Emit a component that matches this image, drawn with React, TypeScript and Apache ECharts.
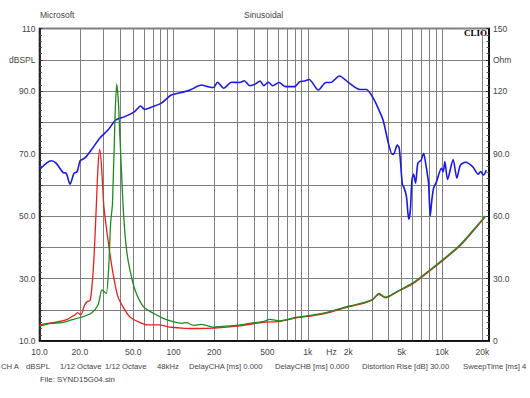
import React, { useEffect, useRef } from "react";
import * as echarts from "echarts";

// Blue: SPL response (left axis, dBSPL)
const blueFreq = [10, 12.2, 13.3, 15.0, 15.8, 16.9, 18.1, 19.1, 20.1, 21.7, 24.3, 28.1, 32.4, 36.9, 43.2, 51.2, 56.7, 60.8, 70.1, 80.9, 96, 121, 135, 161, 180, 198, 212, 236, 270, 312, 336, 370, 405, 441, 470, 508, 547, 611, 683, 796, 870, 947, 1022, 1197, 1364, 1477, 1718, 2038, 2434, 2737, 3073, 3340, 3634, 3990, 4244, 4350, 4640, 4800, 5067, 5180, 5433, 5647, 5810, 5968, 6142, 6349, 6605, 6992, 7300, 7550, 7940, 8167, 8400, 8650, 9105, 9898, 10200, 10500, 11000, 12100, 12900, 13700, 15000, 16900, 18600, 19400, 20400, 21400];
const blueDb = [64.9, 67.7, 66.9, 63.9, 63.7, 60.2, 63.7, 64.2, 67.7, 68.5, 71.1, 74.9, 77.5, 80.7, 81.8, 83.4, 85.2, 84.1, 85.0, 86.1, 88.7, 89.8, 90.5, 91.9, 91.4, 91.1, 92.8, 90.9, 92.8, 92.7, 93.3, 91.7, 92.2, 93.2, 91.7, 92.8, 91.7, 92.7, 91.4, 91.4, 93.0, 93.2, 93.7, 90.3, 92.7, 92.7, 94.8, 92.5, 90.5, 90.5, 87.7, 84.5, 80.7, 73.2, 69.8, 69.8, 72.7, 71.7, 59.9, 59.4, 56.2, 49.0, 51.9, 61.5, 63.4, 60.5, 66.9, 67.9, 70.1, 66.9, 60.5, 50.0, 55.1, 58.9, 61.0, 65.3, 64.2, 67.4, 61.7, 68.1, 62.1, 66.3, 67.2, 65.8, 63.4, 64.2, 63.1, 64.7];

// Red: impedance (right axis, Ohm)
const redFreq = [10, 11.5, 13.3, 15.7, 18.3, 19.2, 20.3, 21.7, 22.7, 23.8, 24.6, 25.5, 26.5, 27.3, 28.1, 28.9, 30.2, 32.4, 35.3, 38.4, 41.8, 46.9, 54.1, 64.3, 77, 96, 121, 150, 200, 260, 350, 465, 620, 820, 1100, 1460, 2040, 2600, 3030, 3390, 3790, 4590, 6100, 8120, 10200, 13600, 17100, 21000];
const redOhm = [7.7, 8.5, 9.0, 10.1, 12.5, 13.6, 12.5, 17.3, 18.9, 19.4, 26.1, 40.5, 64.5, 83.7, 92.0, 85.3, 64.5, 48.5, 32.5, 21.3, 16.5, 11.7, 9.3, 7.7, 7.7, 6.6, 6.1, 6.0, 6.2, 6.8, 7.8, 9.0, 9.4, 11.1, 12.2, 13.8, 16.5, 18.1, 19.7, 22.4, 20.7, 23.4, 27.6, 33.7, 38.8, 45.6, 52.8, 59.6];

// Green: impedance (right axis, Ohm)
const greenFreq = [10, 12.2, 14.6, 17.3, 20.5, 24.3, 27.3, 29.2, 30.2, 31.5, 32.8, 33.9, 35.0, 36.5, 37.6, 38.7, 39.4, 40.9, 42.6, 44.7, 47.2, 51.5, 59.4, 70.5, 83.6, 99, 115, 125, 140, 160, 180, 200, 230, 262, 300, 348, 400, 465, 520, 620, 824, 1098, 1460, 2041, 2600, 3033, 3392, 3788, 4594, 6102, 8123, 10200, 13600, 17100, 21000];
const greenOhm = [7.2, 8.5, 8.8, 10.1, 11.4, 13.3, 17.3, 24.5, 23.7, 22.9, 35.7, 56.5, 66, 106, 123.4, 115, 104, 80, 58, 43, 34.1, 24.5, 16.5, 13.3, 10.9, 9.3, 8.5, 8.8, 7.5, 8.0, 7.3, 6.6, 7.0, 7.2, 7.6, 8.2, 8.8, 9.3, 10.4, 9.7, 11.4, 12.5, 14.1, 16.8, 18.4, 20.0, 22.9, 21.0, 23.7, 28.0, 34.1, 39.2, 46.1, 53.3, 60.0];

// Axis ticks / labels
const gridFreqs = [10, 20, 30, 40, 50, 60, 70, 80, 90, 100, 200, 300, 400, 500, 600, 700, 800, 900, 1000, 2000, 3000, 4000, 5000, 6000, 7000, 8000, 9000, 10000, 20000];
const xLabelFreqs = [10, 20, 50, 100, 200, 500, 1000, 1500, 2000, 5000, 10000, 20000];
const xLabelTexts = ["10.0", "20.0", "50.0", "100", "200", "500", "1k", "Hz", "2k", "5k", "10k", "20k"];
const xMinFreq = 10;
const xMaxFreq = 22400;
const leftTickValues = [10, 30, 50, 70, 90, 100, 110];
const leftTickTexts = ["10.0", "30.0", "50.0", "70.0", "90.0", "dBSPL", "110"];
const rightTickValues = [0, 30, 60, 90, 120, 135, 150];
const rightTickTexts = ["0", "30.0", "60.0", "90.0", "120", "Ohm", "150"];

const footerRow = [
  { x: 1, text: "CH A" },
  { x: 26, text: "dBSPL" },
  { x: 60, text: "1/12 Octave" },
  { x: 105, text: "1/12 Octave" },
  { x: 157, text: "48kHz" },
  { x: 189, text: "DelayCHA [ms] 0.000" },
  { x: 275, text: "DelayCHB [ms] 0.000" },
  { x: 362, text: "Distortion Rise [dB] 30.00" },
  { x: 463, text: "SweepTime [ms] 4" },
];

const FONT = "'Liberation Sans', Arial, sans-serif";

const lg = (f: number) => Math.log10(f);
const pairs = (fs: number[], vs: number[]) => fs.map((f, i) => [lg(f), vs[i]]);

export default function App() {
  const ref = useRef<HTMLDivElement>(null);
  useEffect(() => {
    if (!ref.current) return;
    const chart = echarts.init(ref.current, null, { renderer: "svg" });
    const labelText = (vals: number[], texts: string[]) => (v: number) => {
      const i = vals.findIndex((t) => Math.abs(t - v) < 1e-6);
      return i >= 0 ? texts[i] : "";
    };
    const xLabLogs = xLabelFreqs.map(lg);
    const gridLine = { color: "#808080", width: 1 };
    const option: any = {
      animation: false,
      backgroundColor: "#ffffff",
      grid: {
        left: 39.5,
        top: 28.5,
        width: 449.5,
        height: 312.5,
        show: true,
        borderColor: "#000",
        borderWidth: 1.5,
        containLabel: false,
      },
      xAxis: {
        type: "value",
        min: lg(xMinFreq),
        max: lg(xMaxFreq),
        axisLine: { show: true, lineStyle: { color: "#000", width: 1.5 } },
        axisTick: { show: false, customValues: gridFreqs.map(lg) },
        splitLine: { show: true, lineStyle: gridLine },
        axisLabel: {
          customValues: xLabLogs,
          formatter: labelText(xLabLogs, xLabelTexts),
          fontSize: 8.5,
          fontFamily: FONT,
          color: "#444",
          margin: 6,
        },
      },
      yAxis: [
        {
          type: "value",
          position: "left",
          min: 10,
          max: 110,
          interval: 10,
          axisLine: { show: true, lineStyle: { color: "#000", width: 1.5 } },
          axisTick: { show: true, inside: true, length: 3, lineStyle: { color: "#333" } },
          minorTick: { show: true, splitNumber: 5, length: 2.5, lineStyle: { color: "#555" } },
          splitLine: { show: true, lineStyle: gridLine },
          axisLabel: {
            formatter: labelText(leftTickValues, leftTickTexts),
            fontSize: 8.5,
            fontFamily: FONT,
            color: "#444",
            margin: 4,
          },
        },
        {
          type: "value",
          position: "right",
          min: 0,
          max: 150,
          interval: 15,
          axisLine: { show: true, lineStyle: { color: "#000", width: 1.5 } },
          axisTick: { show: true, inside: true, length: 3, lineStyle: { color: "#333" } },
          minorTick: { show: true, splitNumber: 5, length: 2.5, lineStyle: { color: "#555" } },
          splitLine: { show: false },
          axisLabel: {
            formatter: labelText(rightTickValues, rightTickTexts),
            fontSize: 8.5,
            fontFamily: FONT,
            color: "#444",
            margin: 4,
          },
        },
      ],
      series: [
        {
          name: "SPL",
          type: "line",
          yAxisIndex: 0,
          data: pairs(blueFreq, blueDb),
          showSymbol: false,
          smooth: 0.25,
          lineStyle: { color: "#1a1ae6", width: 1.6 },
        },
        {
          name: "Impedance A",
          type: "line",
          yAxisIndex: 1,
          data: pairs(redFreq, redOhm),
          showSymbol: false,
          smooth: 0.25,
          lineStyle: { color: "#e8211c", width: 1.3 },
        },
        {
          name: "Impedance B",
          type: "line",
          yAxisIndex: 1,
          data: pairs(greenFreq, greenOhm),
          showSymbol: false,
          smooth: 0.25,
          lineStyle: { color: "#1e8a1e", width: 1.3 },
        },
      ],
      graphic: [
        { type: "text", x: 40, y: 14.5, style: { text: "Microsoft", fontSize: 8.5, fontFamily: FONT, fill: "#444", verticalAlign: "middle" } },
        { type: "text", x: 244, y: 14.5, style: { text: "Sinusoidal", fontSize: 8.5, fontFamily: FONT, fill: "#444", verticalAlign: "middle" } },
        { type: "text", x: 487, y: 32.5, style: { text: "CLIO", fontSize: 9, fontWeight: "bold", fontFamily: "'Liberation Serif', 'Times New Roman', serif", fill: "#000", align: "right", verticalAlign: "middle" } },
        ...footerRow.map((t) => ({
          type: "text",
          x: t.x,
          y: 366.5,
          style: { text: t.text, fontSize: 7.7, fontFamily: FONT, fill: "#444", verticalAlign: "middle" },
        })),
        { type: "text", x: 40, y: 379.5, style: { text: "File: SYND15G04.sin", fontSize: 7.9, fontFamily: FONT, fill: "#444", verticalAlign: "middle" } },
      ],
    };
    chart.setOption(option);
    return () => chart.dispose();
  }, []);
  return (
    <div
      ref={ref}
      style={{ position: "fixed", left: 0, top: 0, width: 530, height: 398, background: "#fff" }}
    />
  );
}
